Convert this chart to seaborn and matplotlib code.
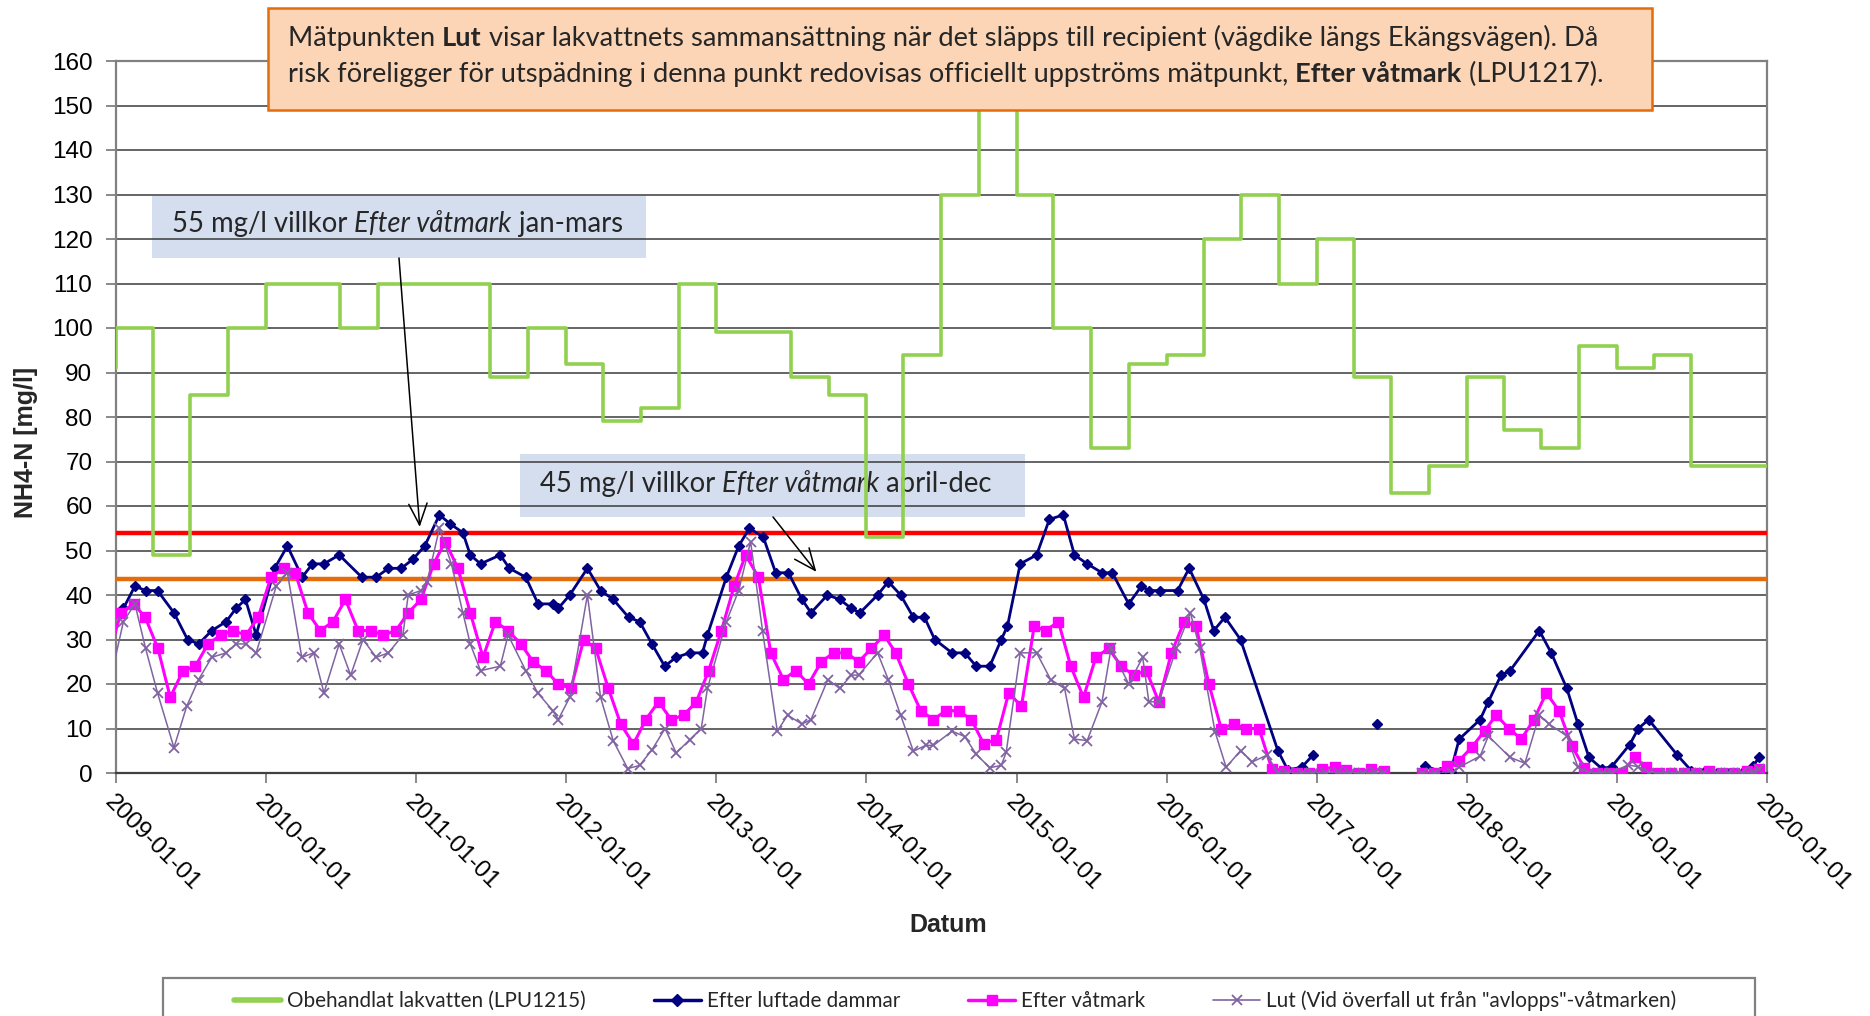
import numpy as np
import pandas as pd
import matplotlib
matplotlib.use('Agg')
import matplotlib.pyplot as plt
import matplotlib.dates as mdates
from matplotlib.patches import Rectangle
from matplotlib.lines import Line2D
import seaborn as sns

nan = np.nan

# Obehandlat lakvatten (LPU1215), kvartalsvärden (första = före 2009, sista = slutpunkt)
kvartal = pd.date_range('2008-10-01', '2020-01-01', freq='QS')
obehandlat = [91,
              100, 49, 85, 100,
              110, 110, 100, 110,
              110, 110, 89, 100,
              92, 79, 82, 110,
              99, 99, 89, 85,
              53, 94, 130, 175,
              130, 100, 73, 92,
              94, 120, 130, 110,
              120, 89, 63, 69,
              89, 77, 73, 96,
              91, 94, 69, 69,
              69]

# Efter luftade dammar
luftade_datum = [
    '2009-01-02', '2009-01-19', '2009-02-16', '2009-03-14', '2009-04-12', '2009-05-22', '2009-06-24',
    '2009-07-21', '2009-08-22', '2009-09-26', '2009-10-20', '2009-11-12', '2009-12-08',
    '2010-01-22', '2010-02-22', '2010-03-30', '2010-04-24', '2010-05-22', '2010-06-28', '2010-08-22',
    '2010-09-26', '2010-10-26', '2010-11-26', '2010-12-24',
    '2011-01-22', '2011-02-27', '2011-03-25', '2011-04-25', '2011-05-13', '2011-06-07', '2011-07-25',
    '2011-08-16', '2011-09-25', '2011-10-25', '2011-12-01', '2011-12-13',
    '2012-01-10', '2012-02-22', '2012-03-25', '2012-04-25', '2012-06-01', '2012-06-28', '2012-07-28',
    '2012-08-28', '2012-09-25', '2012-10-28', '2012-11-28', '2012-12-10',
    '2013-01-25', '2013-02-24', '2013-03-22', '2013-04-25', '2013-05-25', '2013-06-25', '2013-07-28',
    '2013-08-19', '2013-09-28', '2013-10-28', '2013-11-25', '2013-12-16',
    '2014-01-28', '2014-02-23', '2014-03-25', '2014-04-25', '2014-05-22', '2014-06-16', '2014-07-28',
    '2014-08-28', '2014-09-25', '2014-10-28', '2014-11-25', '2014-12-10',
    '2015-01-10', '2015-02-19', '2015-03-22', '2015-04-25', '2015-05-22', '2015-06-22', '2015-07-28',
    '2015-08-22', '2015-10-01', '2015-11-01', '2015-11-19', '2015-12-16',
    '2016-01-28', '2016-02-25', '2016-04-01', '2016-04-25', '2016-05-22', '2016-06-29', '2016-09-28',
    '2016-10-22', '2016-11-25', '2016-12-22',
    '2017-03-01', '2017-05-28', '2017-07-01', '2017-09-22', '2017-10-28', '2017-11-22', '2017-12-13',
    '2018-02-02', '2018-02-22', '2018-03-25', '2018-04-16', '2018-06-26', '2018-07-25', '2018-09-01',
    '2018-09-28', '2018-10-25', '2018-11-25', '2018-12-19',
    '2019-02-01', '2019-02-22', '2019-03-19', '2019-05-28', '2019-07-01', '2019-08-01', '2019-09-01',
    '2019-10-01', '2019-11-01', '2019-11-28', '2019-12-13']
luftade = [36, 37, 42, 41, 41, 36, 30, 29, 32, 34, 37, 39, 31,
           46, 51, 44, 47, 47, 49, 44, 44, 46, 46, 48,
           51, 58, 56, 54, 49, 47, 49, 46, 44, 38, 38, 37,
           40, 46, 41, 39, 35, 34, 29, 24, 26, 27, 27, 31,
           44, 51, 55, 53, 45, 45, 39, 36, 40, 39, 37, 36,
           40, 43, 40, 35, 35, 30, 27, 27, 24, 24, 30, 33,
           47, 49, 57, 58, 49, 47, 45, 45, 38, 42, 41, 41,
           41, 46, 39, 32, 35, 30, 5, 0.7, 1.3, 4,
           nan, 11, nan, 1.6, 0.3, 0.2, 7.6,
           12, 16, 22, 23, 32, 27, 19, 11, 3.5, 1.0, 1.4,
           6.4, 10, 12, 4, 0.5, 0.2, 0.1, 0.1, 0.1, 1.6, 3.5]

# Efter våtmark, månadsprov (dec 2008 - dec 2019)
vatmark_datum = pd.date_range('2008-12-01', '2019-12-01', freq='MS') + pd.Timedelta(days=12)
vatmark = [26,
           36, 38, 35, 28, 17, 23, 24, 29, 31, 32, 31, 35,
           44, 46, 45, 36, 32, 34, 39, 32, 32, 31, 32, 36,
           39, 47, 52, 46, 36, 26, 34, 32, 29, 25, 23, 20,
           19, 30, 28, 19, 11, 6.5, 12, 16, 12, 13, 16, 23,
           32, 42, 49, 44, 27, 21, 23, 20, 25, 27, 27, 25,
           28, 31, 27, 20, 14, 12, 14, 14, 12, 6.6, 7.5, 18,
           15, 33, 32, 34, 24, 17, 26, 28, 24, 22, 23, 16,
           27, 34, 33, 20, 10, 11, 10, 10, 1, 0.5, 0.1, 0.1,
           0.8, 1.4, 0.7, 0.1, 1.0, 0.5, nan, nan, 0.1, 0, 1.6, 2.8,
           5.8, 9.5, 13, 10, 7.6, 12, 18, 14, 6.1, 1.2, 0.1, 0.1,
           0.1, 3.5, 1.3, 0.1, 0, 0, 0, 0.5, 0, 0, 0.4, 1.0]

# Lut (vid överfall ut från "avlopps"-våtmarken)
lut_datum = [
    '2008-12-16',
    '2009-01-19', '2009-02-16', '2009-03-14', '2009-04-12', '2009-05-22', '2009-06-22', '2009-07-21',
    '2009-08-22', '2009-09-26', '2009-10-20', '2009-11-14', '2009-12-08',
    '2010-01-26', '2010-02-22', '2010-03-29', '2010-04-27', '2010-05-22', '2010-06-28', '2010-07-26',
    '2010-08-25', '2010-09-26', '2010-10-26', '2010-11-30', '2010-12-13',
    '2011-01-13', '2011-01-28', '2011-02-27', '2011-03-28', '2011-04-25', '2011-05-13', '2011-06-07',
    '2011-07-25', '2011-08-13', '2011-09-25', '2011-10-24', '2011-11-30', '2011-12-13',
    '2012-01-10', '2012-02-22', '2012-03-25', '2012-04-25', '2012-05-30', '2012-06-28', '2012-07-28',
    '2012-08-29', '2012-09-25', '2012-10-28', '2012-11-25', '2012-12-10',
    '2013-01-25', '2013-02-24', '2013-03-25', '2013-04-23', '2013-05-29', '2013-06-23', '2013-07-28',
    '2013-08-19', '2013-09-29', '2013-10-28', '2013-11-25', '2013-12-13',
    '2014-01-28', '2014-02-23', '2014-03-25', '2014-04-25', '2014-05-25', '2014-06-13', '2014-07-28',
    '2014-08-28', '2014-09-25', '2014-10-28', '2014-11-25', '2014-12-07',
    '2015-01-10', '2015-02-19', '2015-03-25', '2015-04-28', '2015-05-22', '2015-06-22', '2015-07-28',
    '2015-08-19', '2015-10-01', '2015-11-04', '2015-11-19', '2015-12-13',
    '2016-01-25', '2016-02-28', '2016-03-22', '2016-04-28', '2016-05-25', '2016-06-29', '2016-07-28',
    '2016-09-01', '2016-09-28', '2016-10-22', '2016-11-25', '2016-12-22',
    '2017-01-22', '2017-02-22', '2017-03-22', '2017-04-22', '2017-05-22', '2017-06-13', '2017-08-01',
    '2017-09-13', '2017-10-16', '2017-11-25', '2017-12-13',
    '2018-02-02', '2018-02-22', '2018-04-16', '2018-05-22', '2018-06-26', '2018-07-20', '2018-09-01',
    '2018-09-28', '2018-10-25', '2018-11-25', '2018-12-19',
    '2019-01-28', '2019-02-22', '2019-03-19', '2019-05-01', '2019-06-01', '2019-07-01', '2019-08-01',
    '2019-09-01', '2019-10-01', '2019-11-01', '2019-11-28', '2019-12-13']
lut = [20,
       34, 38, 28, 18, 5.7, 15, 21, 26, 27, 29, 29, 27,
       42, 45, 26, 27, 18, 29, 22, 30, 26, 27, 31, 40,
       41, 43, 55, 47, 36, 29, 23, 24, 31, 23, 18, 14, 12,
       17, 40, 17, 7.2, 1.0, 1.7, 5.2, 10, 4.5, 7.5, 10, 19,
       34, 41, 52, 32, 9.4, 13, 11, 12, 21, 19, 22, 22,
       27, 21, 13, 4.9, 6.2, 6.2, 9.4, 8.2, 4.2, 1.2, 1.7, 4.7,
       27, 27, 21, 19, 7.6, 7.3, 16, 28, 20, 26, 16, 16,
       28, 36, 28, 9.3, 1.3, 5, 2.5, 4, 0.1, 0, 0, 0.1,
       0.1, 0.3, 0.1, 0.1, 0.2, 0.1, nan, 0, 0, 0, 1.3,
       3.8, 8.3, 3.5, 2.2, 13, 11, 8.3, 1.3, 0.1, 0.1, 0.1,
       1.8, 1.4, 0.1, 0.1, 0, 0, 0, 0, 0, 0, 0.3, 1.0]

villkor_jan_mars = 54
villkor_april_dec = 43.7

serie_namn = ['Obehandlat lakvatten (LPU1215)', 'Efter luftade dammar', 'Efter våtmark',
              'Lut (Vid överfall ut från "avlopps"-våtmarken)']

sns.set_theme(style='white')
plt.rcParams['font.family'] = ['Liberation Sans', 'DejaVu Sans']
KALIBRI = ['Lato', 'DejaVu Sans']

W, H = 1870, 1016
fig = plt.figure(figsize=(W / 100, H / 100), dpi=100)
ax = fig.add_axes([116 / W, 1 - 773 / H, (1767 - 116) / W, (773 - 61) / H])
renderer = fig.canvas.get_renderer()


def fx(x):
    return x / W


def fy(y):
    return 1 - y / H


def rita(datum, varden, **kw):
    df = pd.DataFrame({'datum': pd.to_datetime(datum), 'varde': varden})
    df['del'] = df['varde'].isna().cumsum()
    df = df.dropna()
    sns.lineplot(data=df, x='datum', y='varde', units='del', estimator=None,
                 ax=ax, legend=False, **kw)


rita(kvartal, obehandlat, color='#92D050', linewidth=2.6, drawstyle='steps-post', zorder=3)
rita(luftade_datum, luftade, color='#000080', linewidth=2.0, marker='D', markersize=5.5,
     markeredgecolor='#000080', markeredgewidth=1, zorder=4)
rita(vatmark_datum, vatmark, color='#FF00FF', linewidth=2.2, marker='s', markersize=7,
     markeredgecolor='#FF00FF', markeredgewidth=1, zorder=5)
rita(lut_datum, lut, color='#8064A2', linewidth=1.1, marker='x', markersize=7,
     markeredgecolor='#8064A2', markeredgewidth=1.3, zorder=6)

ax.axhline(villkor_jan_mars, color='#FF0000', linewidth=3.2, zorder=2.6)
ax.axhline(villkor_april_dec, color='#E46C0A', linewidth=3.2, zorder=2.6)

ax.set_xlim(pd.Timestamp('2009-01-01'), pd.Timestamp('2020-01-01'))
ax.set_ylim(0, 160)
ax.set_yticks(range(0, 161, 10))
ax.xaxis.set_major_locator(mdates.YearLocator())
ax.xaxis.set_major_formatter(mdates.DateFormatter('%Y-%m-%d'))
ax.set_xlabel('')
ax.set_ylabel('')
ax.set_axisbelow(True)
ax.grid(axis='y', color='#3a3a3a', linewidth=1.1)
ax.grid(axis='x', visible=False)
ax.tick_params(axis='both', direction='out', length=7, width=1.3, color='#808080',
               labelsize=17.5, labelcolor='black', bottom=True, left=True)
ax.tick_params(axis='y', pad=10)
ax.tick_params(axis='x', pad=6)
plt.setp(ax.get_xticklabels(), rotation=-45, ha='left', va='top', rotation_mode='anchor')
for s in ax.spines.values():
    s.set_color('#808080')
    s.set_linewidth(1.6)
ax.spines['bottom'].set_color('#404040')

fig.text(fx(26), fy(442), 'NH4-N [mg/l]', rotation=90, fontweight='bold', fontsize=18,
         ha='center', va='center')
fig.text(fx(948), fy(925), 'Datum', fontweight='bold', fontsize=18, ha='center', va='center')


def bredd(s, **kw):
    t = fig.text(0, 0, s, **kw)
    w = t.get_window_extent(renderer).width
    t.remove()
    return w


def framsteg(s, storlek, vikt, stil):
    k = dict(fontsize=storlek, fontweight=vikt, fontstyle=stil, family=KALIBRI)
    return bredd('I' + s + 'I', **k) - bredd('II', **k)


def passa(rader, mal_bredd):
    # textstorlek så att första raden får målbredden
    tot = sum(framsteg(s, 10, v, st) for s, v, st in rader[0])
    return 10 * mal_bredd / tot


def rik_text(mal, delar, x0, baslinje, storlek, zorder):
    x = x0
    for s, v, st in delar:
        mal.text(fx(x), fy(baslinje), s, fontsize=storlek, fontweight=v, fontstyle=st,
                 family=KALIBRI, ha='left', va='baseline', transform=fig.transFigure,
                 zorder=zorder, clip_on=False)
        x += framsteg(s, storlek, v, st)


# orange textruta
fig.add_artist(Rectangle((fx(268), fy(110)), (1652 - 268) / W, (110 - 8) / H,
                         transform=fig.transFigure, facecolor='#FBD5B5',
                         edgecolor='#E46C0A', linewidth=1.8, zorder=3))
rad1 = [('Mätpunkten ', 'normal', 'normal'), ('Lut', 'bold', 'normal'),
        (' visar lakvattnets sammansättning när det släpps till recipient (vägdike längs Ekängsvägen). Då',
         'normal', 'normal')]
rad2 = [('risk föreligger för utspädning i denna punkt redovisas officiellt uppströms mätpunkt, ',
         'normal', 'normal'), ('Efter våtmark', 'bold', 'normal'), (' (LPU1217).', 'normal', 'normal')]
st_box = passa([rad1], 1598 - 288)
rik_text(fig, rad1, 288, 46, st_box, 4)
rik_text(fig, rad2, 288, 82, st_box, 4)

# blå etiketter (under rutnätet)
ax.add_patch(Rectangle((fx(152), fy(258)), (646 - 152) / W, (258 - 196) / H,
                       transform=fig.transFigure, facecolor='#D4DEEE', edgecolor='none',
                       zorder=0.3, clip_on=False))
ax.add_patch(Rectangle((fx(520), fy(517)), (1025 - 520) / W, (517 - 454) / H,
                       transform=fig.transFigure, facecolor='#D4DEEE', edgecolor='none',
                       zorder=0.3, clip_on=False))
etikett1 = [('55 mg/l villkor ', 'normal', 'normal'), ('Efter våtmark', 'normal', 'italic'),
            (' jan-mars', 'normal', 'normal')]
etikett2 = [('45 mg/l villkor ', 'normal', 'normal'), ('Efter våtmark', 'normal', 'italic'),
            (' april-dec', 'normal', 'normal')]
st_et = passa([etikett1], 623 - 172)
rik_text(ax, etikett1, 172, 232, st_et, 0.4)
rik_text(ax, etikett2, 540, 492, st_et, 0.4)

pil = dict(arrowstyle='->,head_length=0.7,head_width=0.3', color='black', lw=1.1,
           mutation_scale=22, shrinkA=0, shrinkB=0)
ax.annotate('', xy=(mdates.date2num(pd.Timestamp('2011-01-10')), 55.3),
            xytext=(fx(399), fy(258)), textcoords='figure fraction', arrowprops=pil, zorder=7)
ax.annotate('', xy=(mdates.date2num(pd.Timestamp('2013-09-01')), 45.2),
            xytext=(fx(773), fy(517)), textcoords='figure fraction', arrowprops=pil, zorder=7)

# förklaring
fig.add_artist(Rectangle((fx(163), fy(1040)), (1755 - 163) / W, (1040 - 978) / H,
                         transform=fig.transFigure, facecolor='white', edgecolor='#808080',
                         linewidth=1.6, zorder=1))
st_leg = 10 * 297 / bredd(serie_namn[0], fontsize=10, family=KALIBRI)
px_leg = st_leg * 100 / 72
handtag = [Line2D([], [], color='#92D050', linewidth=4),
           Line2D([], [], color='#000080', linewidth=2.5, marker='D', markersize=6),
           Line2D([], [], color='#FF00FF', linewidth=2.5, marker='s', markersize=7),
           Line2D([], [], color='#8064A2', linewidth=1.2, marker='x', markersize=7,
                  markeredgewidth=1.3)]
leg = fig.legend(handtag, serie_namn, loc='center left', bbox_to_anchor=(fx(234), fy(1001)),
                 ncol=4, frameon=False, prop={'family': KALIBRI, 'size': st_leg},
                 handlelength=47 / px_leg, handletextpad=6 / px_leg, columnspacing=68 / px_leg,
                 borderpad=0, borderaxespad=0)
leg.set_zorder(5)

fig.savefig('out.png', dpi=100)
